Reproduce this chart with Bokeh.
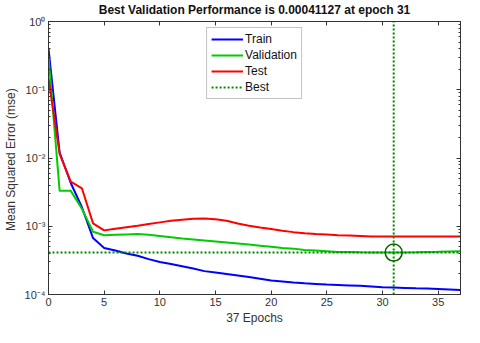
from bokeh.plotting import figure
from bokeh.models import LinearAxis, LogAxis, Range1d, FixedTicker, CustomJSTickFormatter
from bokeh.embed import file_html
from bokeh.resources import INLINE

epochs = list(range(38))
train = [0.40, 0.012, 0.0043, 0.0019, 0.00067, 0.00048, 0.00044, 0.00040, 0.00037, 0.00033,
         0.00030, 0.00028, 0.00026, 0.00024, 0.00022, 0.00021, 0.00020, 0.00019, 0.00018, 0.00017,
         0.00016, 0.000155, 0.00015, 0.000146, 0.000143, 0.00014, 0.000138, 0.000136, 0.000134, 0.000131,
         0.000128, 0.000127, 0.000125, 0.000123, 0.000122, 0.00012, 0.000118, 0.000116]
validation = [0.31, 0.0033, 0.0033, 0.0018, 0.00083, 0.00074, 0.00075, 0.00076, 0.00077, 0.00075,
              0.00072, 0.00069, 0.00066, 0.00064, 0.00062, 0.0006, 0.00058, 0.00056, 0.00054, 0.00052,
              0.0005, 0.00048, 0.00047, 0.00045, 0.00044, 0.00043, 0.00042, 0.00042, 0.000415, 0.000413,
              0.000412, 0.00041127, 0.000412, 0.000415, 0.00042, 0.000423, 0.000427, 0.00043]
test = [0.145, 0.0115, 0.0045, 0.0036, 0.0011, 0.00087, 0.00092, 0.00097, 0.00102, 0.00108,
        0.00114, 0.0012, 0.00125, 0.00129, 0.0013, 0.00127, 0.0012, 0.0011, 0.00102, 0.00096,
        0.00091, 0.00086, 0.00082, 0.00079, 0.00077, 0.00076, 0.00074, 0.00073, 0.00072, 0.00071,
        0.00071, 0.00071, 0.00071, 0.00071, 0.00071, 0.00071, 0.00071, 0.00071]
best_epoch = 31
best_perf = 0.00041127
x_limits = [0, 37]
y_limits = [1e-4, 1]
x_ticks = [0, 5, 10, 15, 20, 25, 30, 35]
y_tick_labels = {1e-4: "10\u207b\u2074", 1e-3: "10\u207b\u00b3", 1e-2: "10\u207b\u00b2",
                 1e-1: "10\u207b\u00b9", 1: "10\u2070"}

FONT = "Liberation Sans"
AX = "#333333"

p = figure(width=464, height=327, y_axis_type="log", output_backend="svg",
           toolbar_location=None,
           x_range=Range1d(*x_limits), y_range=Range1d(*y_limits),
           min_border_left=36, min_border_right=0, min_border_top=0, min_border_bottom=0)
p.title.text = "Best Validation Performance is 0.00041127 at epoch 31"
p.title.align = "center"
p.title.text_font = FONT
p.title.text_font_size = "12px"
p.title.text_font_style = "bold"
p.title.text_color = "#111111"
p.title.standoff = 0
p.title.offset = 0

p.grid.visible = False
p.outline_line_color = AX

for ax in (p.xaxis[0], p.yaxis[0]):
    ax.major_tick_in = 4
    ax.major_tick_out = 0
    ax.minor_tick_in = 2
    ax.minor_tick_out = 0
    ax.axis_line_color = AX
    ax.major_tick_line_color = AX
    ax.minor_tick_line_color = AX
    ax.major_label_text_font = FONT
    ax.major_label_text_font_size = "11px"
    ax.major_label_text_color = "#333333"
    ax.axis_label_text_font = FONT
    ax.axis_label_text_font_size = "12px"
    ax.axis_label_text_font_style = "normal"
    ax.axis_label_text_color = "#333333"

p.xaxis[0].ticker = FixedTicker(ticks=x_ticks)
p.xaxis[0].minor_tick_in = 0
p.xaxis[0].axis_label = "37 Epochs"
p.xaxis[0].axis_label_standoff = 2
p.xaxis[0].major_label_standoff = 3
p.yaxis[0].ticker.num_minor_ticks = 10
p.yaxis[0].major_label_overrides = y_tick_labels
p.yaxis[0].axis_label = "Mean Squared Error  (mse)"
p.yaxis[0].axis_label_standoff = 4
p.yaxis[0].major_label_standoff = 3

top = LinearAxis(ticker=FixedTicker(ticks=x_ticks),
                 formatter=CustomJSTickFormatter(code="return ' ';"),
                 major_label_standoff=0, major_label_text_font_size="2px",
                 major_tick_in=4, major_tick_out=0, minor_tick_in=0, minor_tick_out=0,
                 axis_line_color=AX, major_tick_line_color=AX)
p.add_layout(top, "above")
right = LogAxis(formatter=CustomJSTickFormatter(code="return ' ';"), major_label_standoff=0,
                major_label_text_font_size="2px",
                major_tick_in=4, major_tick_out=0,
                minor_tick_in=2, minor_tick_out=0, axis_line_color=AX,
                major_tick_line_color=AX, minor_tick_line_color=AX)
right.ticker.num_minor_ticks = 10
p.add_layout(right, "right")

p.line(epochs, train, line_color="#0000ff", line_width=2, legend_label="Train")
p.line(epochs, validation, line_color="#00cc00", line_width=2, legend_label="Validation")
p.line(epochs, test, line_color="#ff0000", line_width=2, legend_label="Test")
p.line(x_limits, [best_perf, best_perf], line_color="#008800", line_width=2,
       line_dash="2 2", legend_label="Best")
p.line([best_epoch, best_epoch], y_limits, line_color="#008800", line_width=2, line_dash="2 2")
p.scatter([best_epoch], [best_perf], marker="circle", size=17, fill_alpha=0,
          line_color="#006600", line_width=1.5)

lg = p.legend[0]
lg.location = "top_center"
lg.label_text_font = FONT
lg.label_text_font_size = "12px"
lg.label_text_color = "#111111"
lg.label_height = 12
lg.glyph_height = 12
lg.glyph_width = 32
lg.spacing = 2
lg.padding = 4
lg.margin = 6
lg.label_standoff = 2
lg.border_line_color = "#888888"
lg.background_fill_alpha = 1

open("out.html", "w").write(file_html(p, INLINE))
